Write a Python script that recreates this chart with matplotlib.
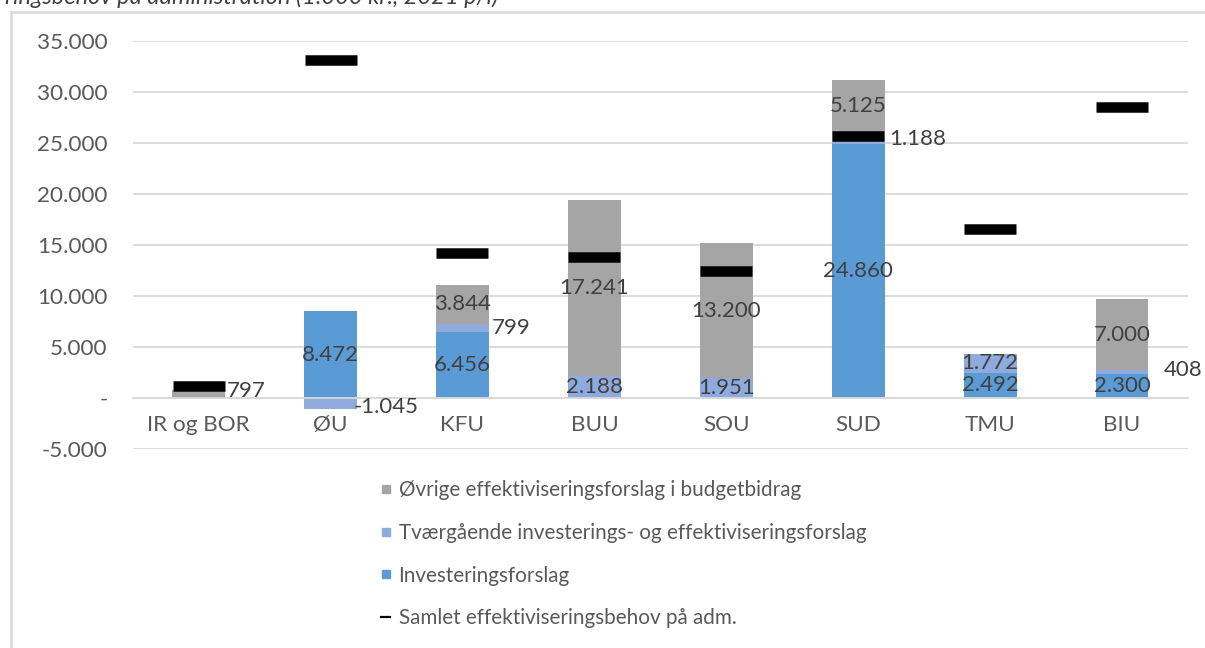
import numpy as np
import matplotlib
matplotlib.use("Agg")
import matplotlib.pyplot as plt
from matplotlib.lines import Line2D

# ---------------- data ----------------
categories = ["IR og BOR", "ØU", "KFU", "BUU", "SOU", "SUD", "TMU", "BIU"]
investering = [0, 8472, 6456, 0, 0, 24860, 2492, 2300]
tvaergaaende = [0, -1045, 799, 2188, 1951, 1188, 1772, 408]
oevrige = [797, 0, 3844, 17241, 13200, 5125, 0, 7000]
samlet_behov = [1215, 33150, 14200, 13800, 12400, 25680, 16520, 28520]

series_names = ["Investeringsforslag",
                "Tværgående investerings- og effektiviseringsforslag",
                "Øvrige effektiviseringsforslag i budgetbidrag"]
line_name = "Samlet effektiviseringsbehov på adm."
title_text = "ringsbehov på administration (1.000 kr., 2021 p/l)"
yticks = [-5000, 0, 5000, 10000, 15000, 20000, 25000, 30000, 35000]

# ---------------- style ----------------
colors = ["#5B9BD5", "#8FAADC", "#A5A5A5"]
label_color = "#404040"
tick_color = "#595959"
grid_color = "#D9D9D9"
FONT = "Lato"
plt.rcParams["font.family"] = [FONT, "DejaVu Sans"]

# labels moved outside the bar: (series index, category index) -> (dx px from bar right, dy px)
outside = {(2, 0): (2, 3), (1, 1): (-3, -4), (1, 2): (3, 0), (1, 5): (5, -1), (1, 7): (15, 2)}

W, H = 1205, 648
fig = plt.figure(figsize=(W / 100, H / 100), dpi=100)
ax = fig.add_axes([132.7 / W, 1 - 449 / H, (1188 - 132.7) / W, (449 - 40.7) / H])

x = np.arange(len(categories))
bw = 0.4
all_series = [investering, tvaergaaende, oevrige]
pos_base = np.zeros(len(categories))
neg_base = np.zeros(len(categories))
px_per_pt = 100 / 72
LABEL_FS = 16

for si, (vals, col, name) in enumerate(zip(all_series, colors, series_names)):
    vals = np.array(vals, dtype=float)
    bottoms = np.where(vals >= 0, pos_base, neg_base)
    ax.bar(x, vals, bw, bottom=bottoms, color=col, label=name, zorder=2)
    for i, v in enumerate(vals):
        if v == 0:
            continue
        cy = bottoms[i] + v / 2
        txt = f"{int(v):,}".replace(",", ".")
        if (si, i) in outside:
            dx, dy = outside[(si, i)]
            ax.annotate(txt, xy=(x[i] + bw / 2, cy), xytext=(dx / px_per_pt, dy / px_per_pt),
                        textcoords="offset points", ha="left", va="center",
                        fontsize=LABEL_FS, color=label_color, zorder=5)
        else:
            ax.text(x[i], cy, txt, ha="center", va="center", fontsize=LABEL_FS,
                    color=label_color, zorder=5)
    pos_base = pos_base + np.where(vals > 0, vals, 0)
    neg_base = neg_base + np.where(vals < 0, vals, 0)

ax.plot(x, samlet_behov, linestyle="none", marker="_", markersize=52 / px_per_pt,
        markeredgewidth=10.5 / px_per_pt, color="black", zorder=4, label=line_name)

ax.set_xlim(-0.5, len(categories) - 0.5)
ax.set_ylim(-5000, 35000)
ax.set_yticks(yticks)
ax.set_yticklabels(["-" if t == 0 else f"{t:,}".replace(",", ".") for t in yticks])
ax.set_xticks(x)
ax.set_xticklabels(categories)
ax.yaxis.grid(True, color=grid_color, linewidth=1.3, zorder=0)
ax.set_axisbelow(True)
for s in ["top", "right", "left"]:
    ax.spines[s].set_visible(False)
ax.spines["bottom"].set_position(("data", 0))
ax.spines["bottom"].set_color(grid_color)
ax.spines["bottom"].set_linewidth(1.3)
ax.tick_params(axis="y", length=0, pad=18, labelsize=16.2, labelcolor=tick_color)
ax.tick_params(axis="x", length=0, pad=12, labelsize=16.2, labelcolor=tick_color)

# legend
handles = [Line2D([], [], linestyle="none", marker="s", markersize=6, color=colors[2]),
           Line2D([], [], linestyle="none", marker="s", markersize=6, color=colors[1]),
           Line2D([], [], linestyle="none", marker="s", markersize=6, color=colors[0]),
           Line2D([], [], color="black", linewidth=1.6)]
labels = [series_names[2], series_names[1], series_names[0], line_name]
fig.legend(handles, labels, loc="upper left", bbox_to_anchor=(381 / W, 1 - 480 / H),
           frameon=False, fontsize=14.9, labelcolor=tick_color, handlelength=0.45,
           handletextpad=0.4, labelspacing=1.1, borderpad=0, borderaxespad=0)

# title (cropped at top, as in the source) and chart border
fig.text(5 / W, 1 - 4.5 / H, title_text, fontsize=17, style="italic", color=label_color,
         ha="left", va="baseline")
fig.add_artist(Line2D([11 / W, 1.0], [1 - 12 / H, 1 - 12 / H], color=grid_color, linewidth=1.8))
fig.add_artist(Line2D([11 / W, 11 / W], [1 - 12 / H, 0], color=grid_color, linewidth=1.8))

fig.savefig("out.png", dpi=100)
